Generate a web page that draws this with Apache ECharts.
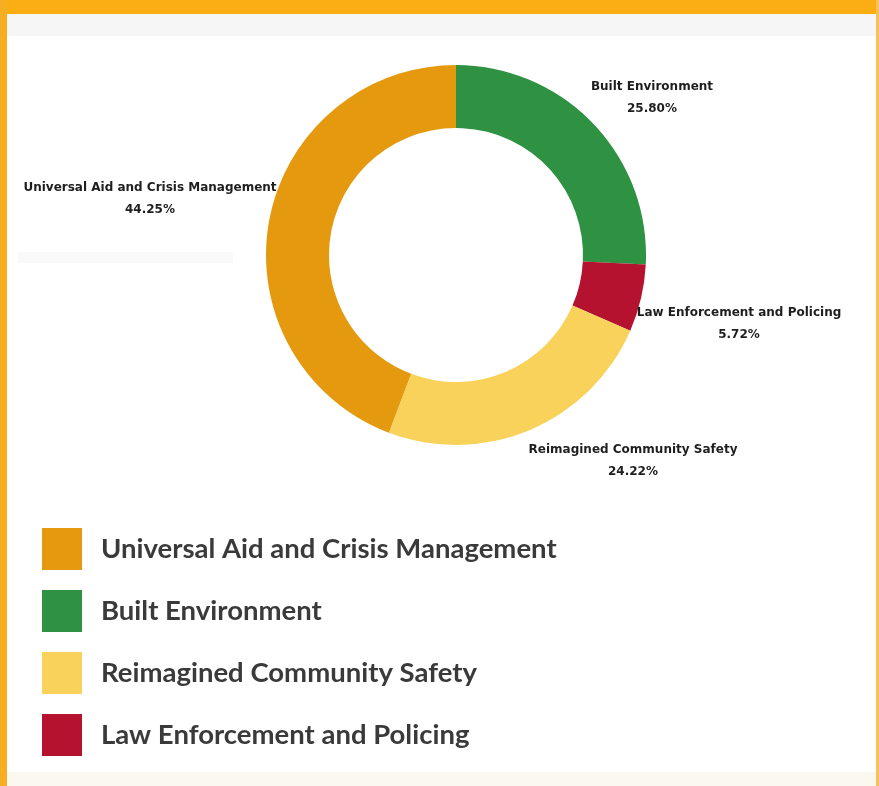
<!DOCTYPE html>
<html>
<head>
<meta charset="utf-8">
<script src="https://cdn.jsdelivr.net/npm/echarts@6/dist/echarts.min.js"></script>
<style>
html,body{margin:0;padding:0;background:#ffffff;}
#chart{width:879px;height:786px;}
</style>
</head>
<body>
<div id="chart"></div>
<script>
// Data (clockwise from 12 o'clock)
const categories = ['Built Environment', 'Law Enforcement and Policing', 'Reimagined Community Safety', 'Universal Aid and Crisis Management'];
const shares = [25.80, 5.72, 24.22, 44.25];
const legendOrder = ['Universal Aid and Crisis Management', 'Built Environment', 'Reimagined Community Safety', 'Law Enforcement and Policing'];

// Styling
const sliceColors = ['#2F9142', '#B5122F', '#F8D25A', '#E5990F'];
const labelSpots = [[652, 98], [739, 324], [633, 461], [150, 199]];

const chart = echarts.init(document.getElementById('chart'), null, {renderer: 'canvas'});

const option = {
  backgroundColor: '#ffffff',
  animation: false,
  graphic: [
    {type: 'rect', shape: {x: 0, y: 14, width: 879, height: 22}, style: {fill: '#f6f6f6'}, z: -10},
    {type: 'rect', shape: {x: 18, y: 252, width: 215, height: 11}, style: {fill: '#f9f9f9'}, z: -10},
    {type: 'rect', shape: {x: 0, y: 772, width: 879, height: 14}, style: {fill: '#fbf8ef'}, z: -10},
    {type: 'rect', shape: {x: 0, y: 0, width: 879, height: 14}, style: {fill: '#FBAE14'}, z: 10},
    {type: 'rect', shape: {x: 0, y: 0, width: 7, height: 786}, style: {fill: '#F6AE22'}, z: 10},
    {type: 'rect', shape: {x: 876, y: 0, width: 3, height: 786}, style: {fill: '#F8C25A'}, z: 10}
  ],
  legend: {
    orient: 'vertical',
    left: 42,
    top: 528,
    padding: 0,
    itemWidth: 40,
    itemHeight: 42,
    itemGap: 20,
    icon: 'rect',
    data: legendOrder,
    textStyle: {fontFamily: 'Lato', fontWeight: 'bold', fontSize: 27.5, color: '#3a3a3a', padding: [0, 0, 0, 14]},
    selectedMode: false
  },
  series: [{
    type: 'pie',
    center: [456, 255],
    radius: [127, 190],
    startAngle: 90,
    clockwise: true,
    avoidLabelOverlap: false,
    color: sliceColors,
    data: categories.map((c, i) => ({name: c, value: shares[i]})),
    label: {
      show: true,
      position: 'outside',
      formatter: p => p.name + '\n' + p.value.toFixed(2) + '%',
      fontFamily: 'DejaVu Sans',
      fontWeight: 'bold',
      fontSize: 12,
      lineHeight: 22,
      color: '#1e1e1e',
      align: 'center'
    },
    labelLine: {show: false},
    labelLayout: function (params) {
      const s = labelSpots[params.dataIndex];
      return {x: s[0], y: s[1], align: 'center', verticalAlign: 'middle'};
    },
    emphasis: {disabled: true}
  }]
};
chart.setOption(option);
</script>
</body>
</html>
